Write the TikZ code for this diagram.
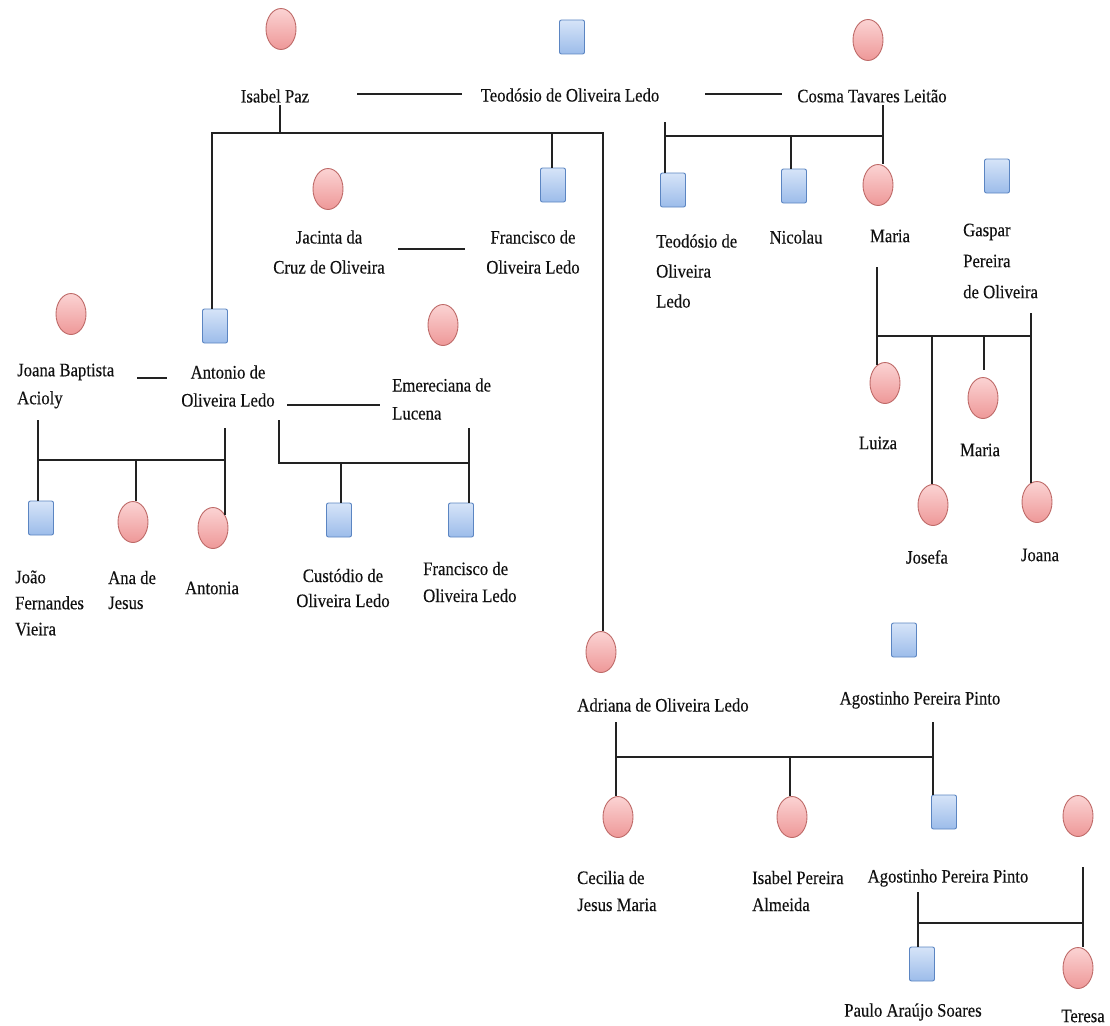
\documentclass[tikz,border=0pt]{standalone}
\usepackage{fontspec}
\setmainfont{Liberation Serif}
\newfontfamily\lblfont{Liberation Serif}[FakeStretch=0.88,FakeBold=0.3]
\usetikzlibrary{shapes.geometric}
\definecolor{femline}{HTML}{BE6A68}
\definecolor{femtop}{HTML}{FBD3D3}
\definecolor{fembot}{HTML}{EE9898}
\definecolor{maleline}{HTML}{5B85C2}
\definecolor{maletop}{HTML}{D6E4F8}
\definecolor{malebot}{HTML}{9CBCEA}
\definecolor{lin}{HTML}{222222}
\definecolor{txt}{HTML}{111111}
\begin{document}
\begin{tikzpicture}[x=1pt,y=-1pt,
  fem/.style={ellipse, draw=femline, line width=0.9pt, top color=femtop, bottom color=fembot,
    minimum width=30pt, minimum height=41pt, inner sep=0pt},
  male/.style={rectangle, rounded corners=2pt, draw=maleline, line width=0.9pt, top color=maletop,
    bottom color=malebot, minimum width=25pt, minimum height=34pt, inner sep=0pt},
  lbl/.style={font=\lblfont\fontsize{19}{28}\selectfont, text=txt, inner sep=0pt},
  link/.style={line width=1.4pt, draw=lin}]
\useasboundingbox (0,0) rectangle (1110,1025);

% ---------- generation 1
\node[fem]  (fIsabel) at (281,29) {};
\node[male] (mTeod)   at (572,37) {};
\node[fem]  (fCosma)  at (868,40) {};
\node[lbl] (lIsabel) at (275,96) {Isabel Paz};
\node[lbl] (lTeod)   at (570,95) {Teodósio de Oliveira Ledo};
\node[lbl] (lCosma)  at (872,96) {Cosma Tavares Leitão};

% ---------- generation 2, right
\node[male] (mTeodJr)  at (673,190) {};
\node[male] (mNicolau) at (794,186) {};
\node[fem]  (fMaria)   at (878,185) {};
\node[male] (mGaspar)  at (997,176) {};
\node[lbl, anchor=west, align=left, font=\lblfont\fontsize{19}{30}\selectfont] (lTeodJr) at (656,271) {Teodósio de\\Oliveira\\Ledo};
\node[lbl] (lNicolau) at (796,237) {Nicolau};
\node[lbl] (lMaria)   at (890,236) {Maria};
\node[lbl, anchor=west, align=left, font=\lblfont\fontsize{19}{31}\selectfont] (lGaspar) at (963,261) {Gaspar\\Pereira\\de Oliveira};

% ---------- generation 2, middle
\node[fem]  (fJacinta)   at (328,189) {};
\node[male] (mFrancisco) at (553,185) {};
\node[lbl, align=center, font=\lblfont\fontsize{19}{30}\selectfont] (lJacinta) at (329,252) {Jacinta da\\Cruz de Oliveira};
\node[lbl, align=center, font=\lblfont\fontsize{19}{30}\selectfont] (lFrancisco) at (533,252) {Francisco de\\Oliveira Ledo};

% ---------- generation 2, left
\node[fem]  (fJoana)      at (71,314) {};
\node[male] (mAntonio)    at (215,326) {};
\node[fem]  (fEmereciana) at (443,325) {};
\node[lbl, anchor=west, align=left] (lJoana) at (17,386) {Joana Baptista\\Acioly};
\node[lbl, align=center] (lAntonio) at (228,386) {Antonio de\\Oliveira Ledo};
\node[lbl, anchor=west, align=left] (lEmereciana) at (392,399) {Emereciana de\\Lucena};

% ---------- generation 3, left
\node[male] (mJoao)       at (41,518) {};
\node[fem]  (fAna)        at (133,522) {};
\node[fem]  (fAntonia)    at (213,528) {};
\node[male] (mCustodio)   at (339,520) {};
\node[male] (mFrancisco2) at (461,520) {};
\node[lbl, anchor=west, align=left, font=\lblfont\fontsize{19}{26}\selectfont] (lJoao) at (15,603) {João\\Fernandes\\Vieira};
\node[lbl, anchor=west, align=left, font=\lblfont\fontsize{19}{25}\selectfont] (lAna) at (108,590) {Ana de\\Jesus};
\node[lbl] (lAntonia) at (212,588) {Antonia};
\node[lbl, align=center, font=\lblfont\fontsize{19}{25}\selectfont] (lCustodio) at (343,588) {Custódio de\\Oliveira Ledo};
\node[lbl, anchor=west, align=left, font=\lblfont\fontsize{19}{27}\selectfont] (lFrancisco2) at (423,582) {Francisco de\\Oliveira Ledo};

% ---------- generation 3, right
\node[fem] (fLuiza)  at (885,383) {};
\node[fem] (fMaria2) at (983,398) {};
\node[fem] (fJosefa) at (933,505) {};
\node[fem] (fJoana2) at (1037,502) {};
\node[lbl] (lLuiza)  at (878,443) {Luiza};
\node[lbl] (lMaria2) at (980,450) {Maria};
\node[lbl] (lJosefa) at (927,557) {Josefa};
\node[lbl] (lJoana2) at (1040,555) {Joana};

% ---------- Adriana branch
\node[fem]  (fAdriana)   at (601,652) {};
\node[male] (mAgostinho) at (904,640) {};
\node[lbl] (lAdriana)   at (663,705) {Adriana de Oliveira Ledo};
\node[lbl] (lAgostinho) at (920,700) {Agostinho Pereira Pinto};
\node[fem]  (fCecilia)   at (618,817) {};
\node[fem]  (fIsabelP)   at (792,817) {};
\node[male] (mAgJr)      at (944,812) {};
\node[fem]  (fTeresaMom) at (1078,816) {};
\node[lbl, anchor=west, align=left, font=\lblfont\fontsize{19}{27}\selectfont] (lCecilia) at (577,891) {Cecilia de\\Jesus Maria};
\node[lbl, anchor=west, align=left, font=\lblfont\fontsize{19}{27}\selectfont] (lIsabelP) at (752,891) {Isabel Pereira\\Almeida};
\node[lbl] (lAgJr) at (948,878) {Agostinho Pereira Pinto};
\node[male] (mPaulo)  at (922,964) {};
\node[fem]  (fTeresa) at (1078,968) {};
\node[lbl] (lPaulo)  at (913,1012) {Paulo Araújo Soares};
\node[lbl] (lTeresa) at (1083,1016) {Teresa};

% ---------- junction points
\coordinate (a1) at (357,94);  \coordinate (a2) at (462,94);
\coordinate (b1) at (705,94);  \coordinate (b2) at (782,94);
\coordinate (i1) at (280,105); \coordinate (i2) at (280,133);
\coordinate (i3) at (212,133); \coordinate (i4) at (603,133);
\coordinate (i5) at (552,133);
\coordinate (t1) at (665,122); \coordinate (t2) at (665,136);
\coordinate (t3) at (883,136); \coordinate (t4) at (883,105);
\coordinate (t5) at (791,136);
\coordinate (c1) at (398,249); \coordinate (c2) at (465,249);
\coordinate (k1) at (137,378); \coordinate (k2) at (167,378);
\coordinate (k3) at (287,405); \coordinate (k4) at (380,405);
\coordinate (j1) at (38,420);  \coordinate (j2) at (38,460);
\coordinate (j3) at (225,460); \coordinate (j4) at (225,428);
\coordinate (j5) at (136,460);
\coordinate (e1) at (279,420); \coordinate (e2) at (279,463);
\coordinate (e3) at (469,463); \coordinate (e4) at (469,428);
\coordinate (e5) at (341,463);
\coordinate (g1) at (877,267); \coordinate (g2) at (877,336);
\coordinate (g3) at (1031,336); \coordinate (g4) at (1031,313);
\coordinate (g5) at (932,336); \coordinate (g6) at (984,336);
\coordinate (g7) at (984,370);
\coordinate (d1) at (616,722); \coordinate (d2) at (616,757);
\coordinate (d3) at (933,757); \coordinate (d4) at (933,722);
\coordinate (d5) at (790,757);
\coordinate (p1) at (918,892); \coordinate (p2) at (918,923);
\coordinate (p3) at (1083,923); \coordinate (p4) at (1083,867);

% ---------- connectors
\draw[link] (a1) -- (a2);
\draw[link] (b1) -- (b2);
\draw[link] (i1) -- (i2);
\draw[link] (mAntonio.north -| i3) -- (i3) -- (i4) -- (fAdriana.north -| i4);
\draw[link] (i5) -- (i5 |- mFrancisco.north);
\draw[link] (t1) -- (t1 |- mTeodJr.north);
\draw[link] (t2) -- (t3);
\draw[link] (t4) -- (t4 |- fMaria.north);
\draw[link] (t5) -- (t5 |- mNicolau.north);
\draw[link] (c1) -- (c2);
\draw[link] (k1) -- (k2);
\draw[link] (k3) -- (k4);
\draw[link] (j1) -- (j1 |- mJoao.north);
\draw[link] (j2) -- (j3);
\draw[link] (j4) -- (j4 |- fAntonia.46);
\draw[link] (j5) -- (j5 |- fAna.north);
\draw[link] (e1) -- (e2) -- (e3);
\draw[link] (e4) -- (e4 |- mFrancisco2.north);
\draw[link] (e5) -- (e5 |- mCustodio.north);
\draw[link] (g1) -- (g1 |- fLuiza.115);
\draw[link] (g2) -- (g3);
\draw[link] (g4) -- (g4 |- fJoana2.108);
\draw[link] (g5) -- (g5 |- fJosefa.north);
\draw[link] (g6) -- (g7);
\draw[link] (d1) -- (d1 |- fCecilia.north);
\draw[link] (d2) -- (d3);
\draw[link] (d4) -- (d4 |- mAgJr.north);
\draw[link] (d5) -- (d5 |- fIsabelP.north);
\draw[link] (p1) -- (p1 |- mPaulo.north);
\draw[link] (p2) -- (p3);
\draw[link] (p4) -- (p4 |- fTeresa.north);
\end{tikzpicture}
\end{document}
